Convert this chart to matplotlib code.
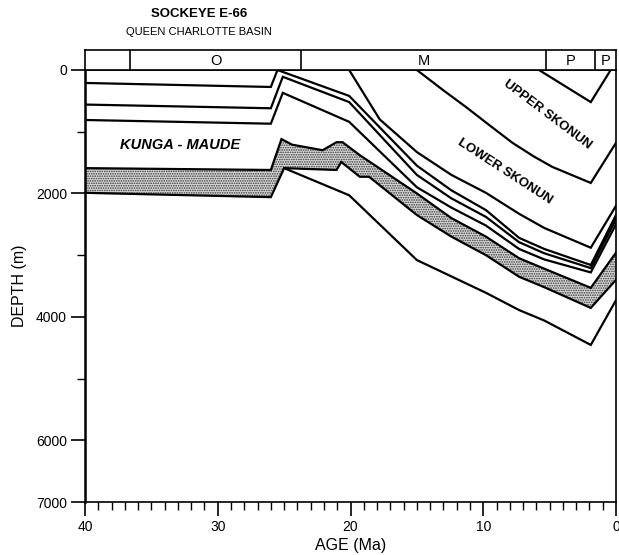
import matplotlib
matplotlib.use("Agg")
import matplotlib.pyplot as plt
from matplotlib.ticker import MultipleLocator, FixedLocator

plt.rcParams["font.family"] = ["Liberation Sans", "DejaVu Sans"]
plt.rcParams["hatch.linewidth"] = 0.8

# horizons: (age Ma, depth m)
line1_age = [40, 26, 25.5, 20.1, 15, 12.4, 9.8, 7.3, 5.4, 1.9, 0]
line1_depth = [210, 275, 0, 420, 1550, 1950, 2270, 2720, 2900, 3160, 2350]
line2_age = [40, 26, 25.1, 20.1, 15, 12.4, 9.8, 7.3, 5.4, 1.9, 0]
line2_depth = [560, 620, 110, 520, 1700, 2080, 2380, 2790, 2970, 3210, 2420]
line3_age = [40, 26, 25.1, 20.1, 15, 12.4, 9.8, 7.3, 5.4, 1.9, 0]
line3_depth = [810, 870, 370, 840, 1900, 2230, 2520, 2900, 3070, 3280, 2500]

kunga_top_age = [40, 26, 25.2, 24.4, 22.1, 21.05, 20.6, 19.3, 15, 12.4, 9.8, 7.3, 5.4, 1.9, 0]
kunga_top_depth = [1590, 1620, 1120, 1210, 1300, 1170, 1170, 1380, 2000, 2400, 2700, 3050, 3220, 3530, 2960]
kunga_base_age = [40, 26, 25.0, 21.05, 20.7, 19.3, 18.6, 15, 12.4, 9.8, 7.3, 5.4, 1.9, 0]
kunga_base_depth = [1990, 2060, 1590, 1620, 1490, 1730, 1730, 2350, 2700, 3000, 3350, 3520, 3855, 3400]

lowest_age = [25.0, 20.1, 15, 9.8, 7.3, 5.4, 1.9, 0]
lowest_depth = [1590, 2030, 3080, 3610, 3890, 4060, 4455, 3730]

lower_skonun_age = [20.1, 17.8, 15, 12.4, 9.8, 7.3, 5.4, 1.9, 0]
lower_skonun_depth = [0, 800, 1330, 1700, 1990, 2330, 2560, 2880, 2200]

upper_skonun_age = [15, 13, 11.3, 9.5, 7.8, 6.2, 4.8, 1.9, 0]
upper_skonun_depth = [0, 330, 600, 900, 1180, 1400, 1570, 1830, 1180]

top_age = [5.8, 1.9, 0.4]
top_depth = [0, 520, 0]

# epoch bar
epoch_bounds = [40, 36.6, 23.7, 5.3, 1.6, 0]
epoch_labels = ["", "O", "M", "P", "P"]


def main():
    fig = plt.figure(figsize=(6.19, 5.55), dpi=100)
    ax = fig.add_axes([85 / 619, 1 - 502 / 555, 531 / 619, 432 / 555])
    bar = fig.add_axes([85 / 619, 1 - 70 / 555, 531 / 619, 20 / 555])

    # shaded Kunga - Maude unit
    poly_age = kunga_top_age + kunga_base_age[::-1]
    poly_depth = kunga_top_depth + kunga_base_depth[::-1]
    ax.fill(poly_age, poly_depth, facecolor="#dadada", edgecolor="#333333",
            hatch=".......", linewidth=0)

    lw = 1.6
    for a, d in [(line1_age, line1_depth), (line2_age, line2_depth),
                 (line3_age, line3_depth), (kunga_top_age, kunga_top_depth),
                 (kunga_base_age, kunga_base_depth), (lowest_age, lowest_depth),
                 (lower_skonun_age, lower_skonun_depth),
                 (upper_skonun_age, upper_skonun_depth), (top_age, top_depth)]:
        ax.plot(a, d, color="black", linewidth=lw, solid_joinstyle="miter")

    ax.text(32.85, 1215, "KUNGA - MAUDE", fontsize=10.5, fontweight="bold",
            fontstyle="italic", ha="center", va="center")
    ax.text(5.2, 730, "UPPER SKONUN", fontsize=9.5, fontweight="bold",
            rotation=-37, ha="center", va="center")
    ax.text(8.4, 1650, "LOWER SKONUN", fontsize=9.5, fontweight="bold",
            rotation=-33, ha="center", va="center")

    ax.set_xlim(40, 0)
    ax.set_ylim(7000, 0)
    ax.xaxis.set_major_locator(FixedLocator([40, 30, 20, 10, 0]))
    ax.xaxis.set_minor_locator(MultipleLocator(1))
    ax.yaxis.set_major_locator(FixedLocator([0, 2000, 4000, 6000, 7000]))
    ax.yaxis.set_minor_locator(FixedLocator([1000, 3000, 5000]))
    ax.tick_params(which="major", length=10, width=1.2, labelsize=10, pad=3)
    ax.tick_params(which="minor", length=6, width=1.0)
    for s in ax.spines.values():
        s.set_linewidth(1.2)
    ax.spines["left"].set_linewidth(1.8)

    ax.set_xlabel("AGE (Ma)", fontsize=11.5, labelpad=3)
    ax.set_ylabel("DEPTH (m)", fontsize=11.5, labelpad=6)

    # epoch bar above the plot
    bar.set_xlim(40, 0)
    bar.set_ylim(0, 1)
    bar.set_xticks([])
    bar.set_yticks([])
    for s in bar.spines.values():
        s.set_linewidth(1.2)
    for b in epoch_bounds[1:-1]:
        bar.axvline(b, color="black", linewidth=1.2)
    for lo, hi, lab in zip(epoch_bounds[:-1], epoch_bounds[1:], epoch_labels):
        bar.text((lo + hi) / 2, 0.45, lab, ha="center", va="center", fontsize=10.5)

    fig.text(199 / 619, 1 - 14 / 555, "SOCKEYE E-66", ha="center", va="center",
             fontsize=9.5, fontweight="bold")
    fig.text(199 / 619, 1 - 32 / 555, "QUEEN CHARLOTTE BASIN", ha="center",
             va="center", fontsize=8)

    fig.savefig("out.png", dpi=100)
    plt.close()


if __name__ == "__main__":
    main()
